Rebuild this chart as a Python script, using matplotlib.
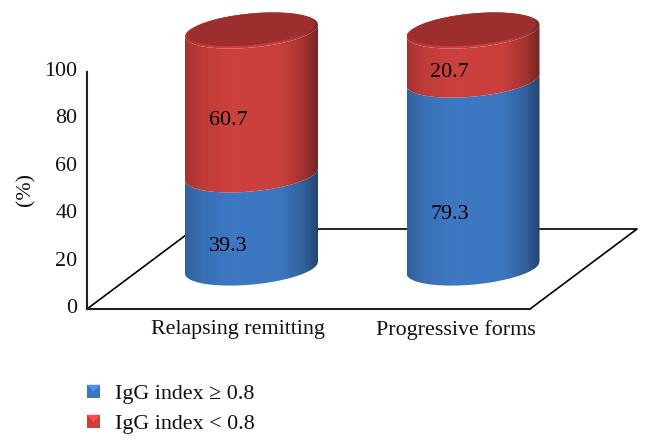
import numpy as np
import matplotlib
matplotlib.use("Agg")
import matplotlib.pyplot as plt
from matplotlib.legend_handler import HandlerBase
from matplotlib.patches import Patch, Polygon, Rectangle
from matplotlib.transforms import ScaledTranslation
from matplotlib.colors import to_rgb

categories = ["Relapsing remitting", "Progressive forms"]
series_names = ["IgG index \u2265 0.8", "IgG index < 0.8"]
igg_high = [39.3, 79.3]
igg_low = [60.7, 20.7]
y_ticks = [0, 20, 40, 60, 80, 100]

BLUE = "#3c76bf"
RED = "#c93f3c"
INNER = "#9c2f2d"
plt.rcParams["font.family"] = ["Liberation Serif", "DejaVu Serif"]
FS = 15.8

W, H = 652, 446
fig = plt.figure(figsize=(W / 100, H / 100), dpi=100)
x0, x1, y0, y1 = 87, 530, 309, 72
ax = fig.add_axes([x0 / W, 1 - y0 / H, (x1 - x0) / W, (y0 - y1) / H])
pitch = 221.5
xlim = ((x0 - 251.5) / pitch, (x1 - 251.5) / pitch)
ax.patch.set_alpha(0)
for s in ("top", "right"):
    ax.spines[s].set_visible(False)
for s in ("left", "bottom"):
    ax.spines[s].set_linewidth(1.5)
    ax.spines[s].set_color("#222222")

# floor of the 3-D box
dx, dy = 107 / (x1 - x0), 80 / (y0 - y1)
ax.plot([0, dx, 1 + dx, 1, 0], [0, dy, dy, 0, 0], transform=ax.transAxes,
        color="black", lw=1.2, clip_on=False, zorder=1)

half_w = 66.5 / pitch
base = 17.5
slant = 2.5
depth = 7.2
u = np.linspace(-1, 1, 241)


def edge(u, level, sign):
    return level + slant * u + sign * depth * np.sqrt(np.clip(1 - u ** 2, 0, 1))


def shade(colour):
    f = np.interp(u, [-1, -0.75, -0.3, 0.45, 0.8, 1], [0.82, 0.95, 1.02, 1.0, 0.8, 0.58])
    return np.clip(np.outer(f, np.array(to_rgb(colour))), 0, 1)[np.newaxis, :, :]


def band(cx, lo, hi, colour, lo_sign=-1, hi_sign=-1):
    lower = edge(u, lo, lo_sign)
    upper = edge(u, hi, hi_sign)
    xs = cx + u * half_w
    outline = np.column_stack([np.r_[xs, xs[::-1]], np.r_[lower, upper[::-1]]])
    im = ax.imshow(shade(colour), extent=[cx - half_w, cx + half_w, lower.min() - 1, upper.max() + 1],
                   aspect="auto", interpolation="bilinear", zorder=3, origin="lower")
    im.set_clip_box(fig.bbox)
    im.set_clip_path(Polygon(outline, closed=True, transform=ax.transData))


for i, (b_val, r_val) in enumerate(zip(igg_high, igg_low)):
    band(i, base, base + b_val, BLUE)
    band(i, base + b_val, base + b_val + r_val, RED)
    top = base + b_val + r_val
    band(i, top, top, RED, -1, 1)
    t = np.linspace(0, 2 * np.pi, 100)
    ax.add_patch(Polygon(np.column_stack([i + 0.95 * half_w * np.cos(t),
                                          top + 0.5 + 0.95 * slant * np.cos(t) + 0.92 * depth * np.sin(t)]),
                         closed=True, fc=INNER, ec=INNER, lw=0.3, zorder=4, clip_on=False))

ax.set_xlim(*xlim)
ax.set_ylim(0, 100)

# data labels: text sits a little below the middle of each visible segment
label_x = -0.106
label_drop = [[6.8, 10.0], [0.1, 10.0]]
for i, (b_val, r_val) in enumerate(zip(igg_high, igg_low)):
    ax.text(i + label_x, b_val / 2 + label_drop[i][0], f"{b_val}", ha="center", va="center",
            fontsize=FS, color="black", zorder=6)
    ax.text(i + label_x, b_val + r_val / 2 + label_drop[i][1], f"{r_val}", ha="center", va="center",
            fontsize=FS, color="black", zorder=6)

ax.set_yticks(y_ticks)
ax.set_xticks([-0.06, 0.922], categories)
ax.tick_params(axis="both", length=0, labelsize=FS, colors="#111111")
ax.tick_params(axis="y", pad=7)
ax.tick_params(axis="x", pad=8)
off = ScaledTranslation(0, 3 / 100, fig.dpi_scale_trans)
for lab in ax.get_yticklabels():
    lab.set_transform(lab.get_transform() + off)
fig.text(26 / W, 1 - 190 / H, "(%)", rotation=90, ha="center", va="center", fontsize=FS, color="#111111")


class Envelope(HandlerBase):
    def create_artists(self, legend, orig, xd, yd, w, h, fontsize, trans):
        c = orig.get_facecolor()
        s = min(w, h)
        sq = Rectangle((-xd, -yd), s, s, fc=c, ec="none", transform=trans)
        light = tuple(min(1, v * 1.25) for v in to_rgb(c[:3]))
        tri = Polygon([[-xd, -yd + s], [-xd + s, -yd + s], [-xd + s / 2, -yd + s * 0.45]],
                      closed=True, fc=light, ec="none", transform=trans)
        return [sq, tri]


handles = [Patch(facecolor=BLUE, label=series_names[0]), Patch(facecolor=RED, label=series_names[1])]
fig.legend(handles=handles, loc="upper left", bbox_to_anchor=(87 / W, 1 - 384 / H), borderaxespad=0,
           borderpad=0, frameon=False, fontsize=FS, handlelength=0.6, handleheight=0.6, handletextpad=0.67,
           labelspacing=0.47, labelcolor="#111111", handler_map={Patch: Envelope()})

fig.savefig("out.png", dpi=100)
